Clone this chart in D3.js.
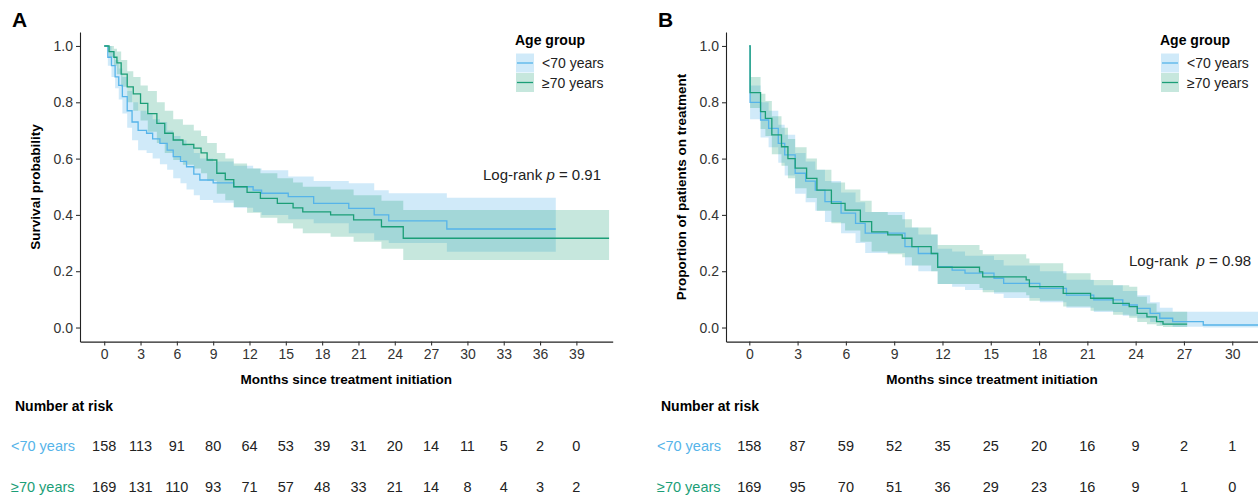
<!DOCTYPE html>
<html>
<head>
<meta charset="utf-8">
<script src="https://cdn.jsdelivr.net/npm/d3@7"></script>
<style>
  body { margin: 0; background: #fff; }
  text { font-family: "Liberation Sans", Arial, sans-serif; }
</style>
</head>
<body>
<svg id="chart" width="1258" height="497"></svg>
<script>
// groups + colours
var groups = ['<70 years', '\u226570 years'];
var colors = ['#56B4E9', '#1b9e77'];

// ---- panel A : overall survival ----
var aYoungT  = [0, 0.3, 0.6, 0.9, 1.2, 1.5, 1.9, 2.3, 2.8, 3.5, 4.0, 4.6, 5.2, 5.7, 6.3, 6.8, 7.4, 7.9, 9.0, 10.7, 12.3, 13.0, 15.2, 17.3, 20.2, 22.3, 23.5, 28.3];
var aYoungS  = [1.0, 0.96, 0.93, 0.89, 0.86, 0.82, 0.77, 0.73, 0.70, 0.69, 0.67, 0.654, 0.63, 0.607, 0.59, 0.571, 0.545, 0.524, 0.514, 0.50, 0.488, 0.477, 0.465, 0.441, 0.423, 0.40, 0.379, 0.35];
var aYoungHi = [1.0, 1.0, 0.98, 0.95, 0.92, 0.89, 0.84, 0.80, 0.77, 0.76, 0.74, 0.73, 0.70, 0.68, 0.665, 0.645, 0.62, 0.60, 0.59, 0.575, 0.565, 0.559, 0.536, 0.52, 0.512, 0.488, 0.477, 0.461];
var aYoungLo = [1.0, 0.93, 0.89, 0.85, 0.81, 0.76, 0.71, 0.665, 0.63, 0.62, 0.60, 0.58, 0.56, 0.53, 0.512, 0.49, 0.47, 0.453, 0.443, 0.425, 0.41, 0.40, 0.385, 0.37, 0.335, 0.31, 0.30, 0.269];
var aYoungEnd = 37.3;

var aOldT  = [0, 0.4, 0.8, 1.05, 1.4, 1.9, 2.4, 3.0, 3.6, 4.35, 5.0, 5.7, 6.5, 7.4, 8.0, 8.5, 9.3, 10.0, 10.7, 11.8, 12.9, 14.3, 15.6, 16.4, 18.7, 20.6, 22.9, 24.7];
var aOldS  = [1.0, 0.98, 0.96, 0.94, 0.90, 0.855, 0.83, 0.796, 0.76, 0.725, 0.69, 0.666, 0.65, 0.637, 0.62, 0.595, 0.548, 0.525, 0.50, 0.48, 0.459, 0.441, 0.425, 0.411, 0.40, 0.382, 0.358, 0.317];
var aOldHi = [1.0, 1.0, 0.99, 0.98, 0.95, 0.91, 0.89, 0.86, 0.84, 0.80, 0.77, 0.74, 0.72, 0.70, 0.68, 0.655, 0.62, 0.60, 0.583, 0.565, 0.548, 0.53, 0.515, 0.50, 0.49, 0.47, 0.45, 0.417];
var aOldLo = [1.0, 0.96, 0.93, 0.90, 0.855, 0.80, 0.77, 0.735, 0.695, 0.655, 0.62, 0.595, 0.578, 0.565, 0.548, 0.52, 0.475, 0.452, 0.428, 0.408, 0.39, 0.37, 0.352, 0.335, 0.322, 0.305, 0.28, 0.24];
var aOldEnd = 41.7;

var riskTimesA = [0, 3, 6, 9, 12, 15, 18, 21, 24, 27, 30, 33, 36, 39];
var riskYoungA = [158, 113, 91, 80, 64, 53, 39, 31, 20, 14, 11, 5, 2, 0];
var riskOldA   = [169, 131, 110, 93, 71, 57, 48, 33, 21, 14, 8, 4, 3, 2];

// ---- panel B : time on treatment ----
var bYoungT  = [0, 0.05, 0.7, 1.2, 1.8, 2.2, 2.85, 3.5, 4.1, 4.7, 5.7, 6.6, 7.2, 9.67, 10.5, 11.7, 12.6, 13.4, 15.2, 15.8, 18.05, 19.7, 21.4, 23.2, 24.1, 24.9, 25.5, 26.3, 28.2];
var bYoungS  = [1.0, 0.80, 0.737, 0.707, 0.654, 0.613, 0.548, 0.52, 0.488, 0.447, 0.406, 0.37, 0.335, 0.287, 0.263, 0.216, 0.204, 0.193, 0.175, 0.157, 0.139, 0.115, 0.098, 0.08, 0.068, 0.05, 0.033, 0.021, 0.009];
var bYoungHi = [1.0, 0.86, 0.80, 0.77, 0.72, 0.685, 0.62, 0.59, 0.56, 0.52, 0.48, 0.445, 0.41, 0.355, 0.33, 0.28, 0.27, 0.255, 0.24, 0.22, 0.20, 0.17, 0.15, 0.13, 0.115, 0.09, 0.07, 0.056, 0.056];
var bYoungLo = [1.0, 0.74, 0.675, 0.64, 0.585, 0.54, 0.475, 0.445, 0.415, 0.375, 0.335, 0.30, 0.265, 0.22, 0.20, 0.155, 0.145, 0.133, 0.12, 0.105, 0.09, 0.07, 0.055, 0.042, 0.033, 0.02, 0.01, 0.003, 0.0];
var bYoungEnd = 31.6;

var bOldT  = [0, 0.05, 0.7, 1.0, 1.4, 2.0, 2.4, 2.85, 3.56, 4.2, 5.1, 5.95, 6.9, 7.6, 8.6, 9.5, 10.1, 11.3, 11.7, 14.3, 14.5, 17.2, 17.4, 19.5, 21.2, 22.6, 23.6, 24.1, 24.7, 25.3, 25.7];
var bOldS  = [1.0, 0.834, 0.767, 0.743, 0.684, 0.642, 0.60, 0.566, 0.53, 0.488, 0.441, 0.417, 0.376, 0.34, 0.329, 0.317, 0.287, 0.263, 0.214, 0.198, 0.18, 0.169, 0.145, 0.121, 0.104, 0.086, 0.074, 0.05, 0.038, 0.021, 0.012];
var bOldHi = [1.0, 0.89, 0.83, 0.805, 0.75, 0.71, 0.67, 0.64, 0.60, 0.56, 0.515, 0.49, 0.45, 0.41, 0.40, 0.385, 0.355, 0.33, 0.293, 0.275, 0.26, 0.245, 0.228, 0.193, 0.169, 0.15, 0.145, 0.109, 0.085, 0.056, 0.056];
var bOldLo = [1.0, 0.78, 0.705, 0.68, 0.615, 0.575, 0.53, 0.495, 0.46, 0.415, 0.37, 0.345, 0.305, 0.27, 0.26, 0.25, 0.22, 0.20, 0.155, 0.14, 0.125, 0.115, 0.095, 0.075, 0.06, 0.045, 0.035, 0.02, 0.012, 0.005, 0.002];
var bOldEnd = 27.2;

var riskTimesB = [0, 3, 6, 9, 12, 15, 18, 21, 24, 27, 30];
var riskYoungB = [158, 87, 59, 52, 35, 25, 20, 16, 9, 2, 1];
var riskOldB   = [169, 95, 70, 51, 36, 29, 23, 16, 9, 1, 0];

var yTicks = [0, 0.2, 0.4, 0.6, 0.8, 1.0];

var svg = d3.select('#chart');

function toRows(T, S, Lo, Hi, end) {
    var rows = T.map(function(t, i) { return {t: t, s: S[i], lo: Lo[i], hi: Hi[i]}; });
    var last = rows[rows.length - 1];
    rows.push({t: end, s: last.s, lo: last.lo, hi: last.hi});
    return rows;
}

function panel(opt) {
    var g = svg.append('g');
    var x = d3.scaleLinear().domain(opt.xDomain).range([opt.left, opt.right]);
    var y = d3.scaleLinear().domain([-0.05, 1.05]).range([341.6, 31.9]);

    var area = d3.area().curve(d3.curveStepAfter)
        .x(function(d) { return x(d.t); })
        .y0(function(d) { return y(d.lo); })
        .y1(function(d) { return y(d.hi); });
    var line = d3.line().curve(d3.curveStepAfter)
        .x(function(d) { return x(d.t); })
        .y(function(d) { return y(d.s); });

    opt.curves.forEach(function(c, i) {
        g.append('path').attr('d', area(c)).attr('fill', colors[i]).attr('fill-opacity', i == 0 ? 0.28 : 0.25);
    });
    opt.curves.forEach(function(c, i) {
        g.append('path').attr('d', line(c)).attr('fill', 'none').attr('stroke', colors[i]).attr('stroke-width', 1.3);
    });

    // axes (no end ticks, like ggplot)
    var ya = g.append('g').attr('transform', 'translate(' + opt.left + ',0)')
        .call(d3.axisLeft(y).tickValues(yTicks).tickFormat(d3.format('.1f')).tickSize(4).tickSizeOuter(0).tickPadding(3));
    var xa = g.append('g').attr('transform', 'translate(0,341.6)')
        .call(d3.axisBottom(x).tickValues(opt.xTicks).tickSize(4).tickSizeOuter(0).tickPadding(3));
    [ya, xa].forEach(function(a) {
        a.select('.domain').attr('stroke', '#222').attr('stroke-width', 1.1);
        a.selectAll('.tick line').attr('stroke', '#333').attr('stroke-width', 1.1);
        a.selectAll('.tick text').attr('fill', '#333').style('font-size', '14px');
    });

    g.append('text').attr('x', opt.left - 68).attr('y', 27).text(opt.letter)
        .style('font-size', '21px').style('font-weight', 'bold');

    g.append('text').attr('transform', 'translate(' + (opt.left - 40) + ',187) rotate(-90)')
        .attr('text-anchor', 'middle').text(opt.yTitle)
        .style('font-size', '13.5px').style('font-weight', 'bold');

    g.append('text').attr('x', (opt.left + opt.right) / 2).attr('y', 384)
        .attr('text-anchor', 'middle').text('Months since treatment initiation')
        .style('font-size', '13.5px').style('font-weight', 'bold');

    // legend
    var lg = g.append('g').attr('transform', 'translate(' + opt.legendX + ',0)');
    lg.append('text').attr('x', 0).attr('y', 45).text('Age group')
        .style('font-size', '14px').style('font-weight', 'bold');
    groups.forEach(function(name, i) {
        var top = 53.5 + i * 19.5;
        lg.append('rect').attr('x', 1).attr('y', top).attr('width', 18).attr('height', 19)
            .attr('fill', colors[i]).attr('fill-opacity', i == 0 ? 0.28 : 0.25);
        lg.append('line').attr('x1', 2).attr('x2', 18).attr('y1', top + 9.5).attr('y2', top + 9.5)
            .attr('stroke', colors[i]).attr('stroke-width', 1.3);
        lg.append('text').attr('x', 27).attr('y', top + 14.5).text(name)
            .style('font-size', '14px').attr('fill', '#222');
    });

    // log-rank
    var lr = g.append('text').attr('x', opt.pX).attr('y', opt.pY).style('font-size', '15px').attr('fill', '#222');
    lr.append('tspan').text(opt.pLabel);
    lr.append('tspan').text('p').style('font-style', 'italic');
    lr.append('tspan').text(' = ' + opt.pValue);

    // risk table
    g.append('text').attr('x', opt.left - 65).attr('y', 411).text('Number at risk')
        .style('font-size', '14px').style('font-weight', 'bold');
    var rowsY = [451, 492];
    [opt.riskYoung, opt.riskOld].forEach(function(vals, r) {
        g.append('text').attr('x', opt.left - 69).attr('y', rowsY[r]).text(groups[r])
            .attr('fill', colors[r]).style('font-size', '14.5px');
        g.selectAll(null).data(vals).enter().append('text')
            .attr('x', function(d, i) { return x(opt.riskTimes[i]); })
            .attr('y', rowsY[r])
            .attr('text-anchor', 'middle')
            .attr('fill', '#222')
            .style('font-size', '14.5px')
            .text(function(d) { return d; });
    });
}

panel({
    letter: 'A', left: 80, right: 612.7, xDomain: [-2, 42],
    xTicks: d3.range(0, 40, 3),
    yTitle: 'Survival probability',
    curves: [toRows(aYoungT, aYoungS, aYoungLo, aYoungHi, aYoungEnd),
             toRows(aOldT, aOldS, aOldLo, aOldHi, aOldEnd)],
    legendX: 515,
    pX: 483, pY: 180, pLabel: 'Log-rank ', pValue: '0.91',
    riskTimes: riskTimesA, riskYoung: riskYoungA, riskOld: riskOldA
});

panel({
    letter: 'B', left: 726, right: 1258, xDomain: [-1.447, 31.6],
    xTicks: d3.range(0, 31, 3),
    yTitle: 'Proportion of patients on treatment',
    curves: [toRows(bYoungT, bYoungS, bYoungLo, bYoungHi, bYoungEnd),
             toRows(bOldT, bOldS, bOldLo, bOldHi, bOldEnd)],
    legendX: 1160,
    pX: 1129, pY: 266, pLabel: 'Log-rank\u00a0 ', pValue: '0.98',
    riskTimes: riskTimesB, riskYoung: riskYoungB, riskOld: riskOldB
});
</script>
</body>
</html>
